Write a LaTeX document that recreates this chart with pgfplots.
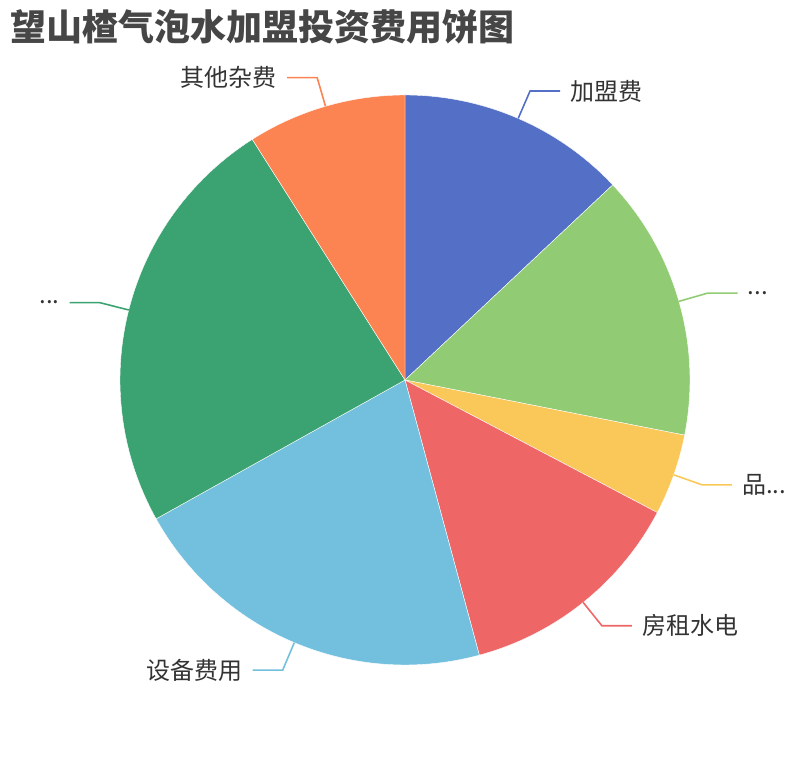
\documentclass[border=0pt]{standalone}
\usepackage{fontspec}
\setmainfont{Noto Sans CJK SC}
\usepackage{pgfplots}
\usepackage{pgfplotstable}
\pgfplotsset{compat=1.18}

\definecolor{c1}{HTML}{5470C6}
\definecolor{c2}{HTML}{91CC75}
\definecolor{c3}{HTML}{FAC858}
\definecolor{c4}{HTML}{EE6666}
\definecolor{c5}{HTML}{73C0DE}
\definecolor{c6}{HTML}{3BA272}
\definecolor{c7}{HTML}{FC8452}
\definecolor{txt}{HTML}{333333}
\definecolor{ttl}{HTML}{464646}

% share of each cost item (percent), clockwise from the top
\pgfplotstableread[col sep=comma]{
label,value,color
加盟费,13.0,c1
...,15.1,c2
品...,4.6,c3
房租水电,13.1,c4
设备费用,21.1,c5
...,24.1,c6
其他杂费,9.0,c7
}\piedata

\begin{document}
\begin{tikzpicture}
\useasboundingbox (0,0) rectangle (810bp,760bp);
\begin{axis}[
    at={(0,0)}, anchor=south west,
    scale only axis, width=810bp, height=760bp,
    xmin=-1.42105, xmax=1.42105,
    ymin=-1.33333, ymax=1.33333,
    hide axis, clip=false,
  ]
  \gdef\cum{90}
  \pgfplotsinvokeforeach{0,...,6}{%
    \pgfplotstablegetelem{#1}{value}\of\piedata \let\val\pgfplotsretval
    \pgfplotstablegetelem{#1}{color}\of\piedata \let\col\pgfplotsretval
    \pgfplotstablegetelem{#1}{label}\of\piedata \let\lab\pgfplotsretval
    \pgfmathsetmacro\aa{\cum}
    \pgfmathsetmacro\bb{\cum-3.6*\val}
    \pgfmathsetmacro\mm{(\aa+\bb)/2}
    \pgfmathsetmacro\ex{cos(\mm)}
    \pgfmathsetmacro\ey{sin(\mm)}
    \pgfmathsetmacro\bx{1.105*cos(\mm)}
    \pgfmathsetmacro\by{1.105*sin(\mm)}
    \pgfmathsetmacro\side{cos(\mm)>=0 ? 1 : -1}
    \pgfmathsetmacro\hx{\bx+\side*0.10526}
    \pgfmathsetmacro\lx{\hx+\side*0.0351}
    \ifdim\side pt>0pt \def\anc{west}\else\def\anc{east}\fi
    \xdef\cum{\bb}
    \edef\tmp{%
      \noexpand\addplot[fill=\col, draw=white, line width=0.4pt, data cs=polar,
        domain=\bb:\aa, samples=90] ({x},{1}) -- (axis cs:0,0) -- cycle;
      \noexpand\addplot[draw=\col, line width=1.6pt] coordinates {(\ex,\ey) (\bx,\by) (\hx,\by)};
      \noexpand\node[anchor=\anc, inner sep=0pt, text=txt,
        font=\noexpand\fontsize{24bp}{28bp}\noexpand\selectfont] at (axis cs:\lx,\by) {\lab};
    }\tmp
  }
\end{axis}
\node[anchor=west, inner sep=0pt, text=ttl, font=\bfseries\fontsize{36bp}{40bp}\selectfont]
  at (10bp,733bp) {望山楂气泡水加盟投资费用饼图};
\end{tikzpicture}
\end{document}
